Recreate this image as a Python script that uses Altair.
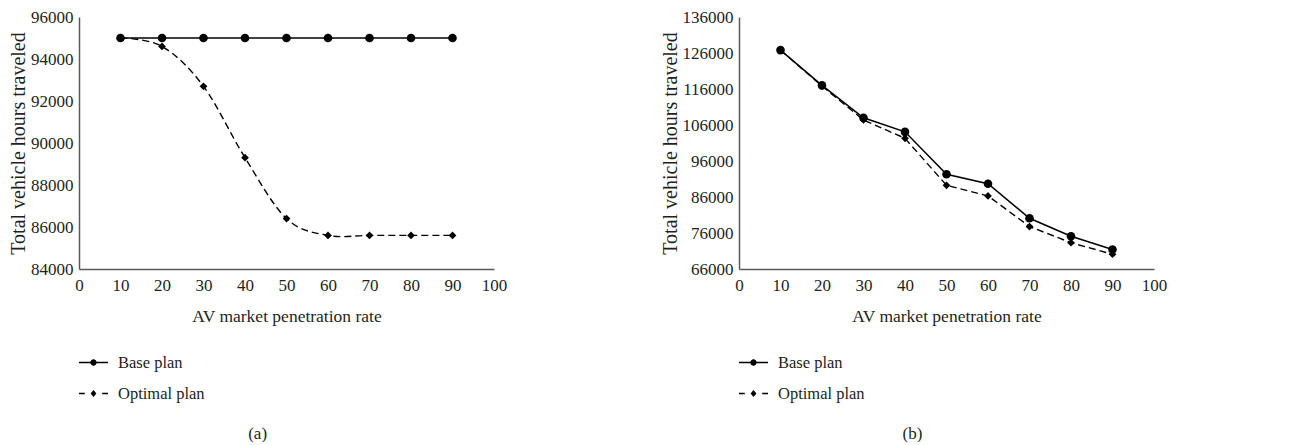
import altair as alt
import pandas as pd

# ---- data ----
x_rate = [10, 20, 30, 40, 50, 60, 70, 80, 90]
a_base = [95000, 95000, 95000, 95000, 95000, 95000, 95000, 95000, 95000]
a_opt = [95000, 94600, 92700, 89300, 86400, 85600, 85600, 85600, 85600]
b_base = [126800, 117000, 108000, 104100, 92300, 89700, 80100, 75100, 71400]
b_opt = [126800, 116800, 107400, 102300, 89250, 86300, 77800, 73300, 70100]
series_names = ["Base plan", "Optimal plan"]
captions = ["(a)", "(b)"]
x_ticks = [0, 10, 20, 30, 40, 50, 60, 70, 80, 90, 100]
a_y_ticks = [84000, 86000, 88000, 90000, 92000, 94000, 96000]
b_y_ticks = [66000, 76000, 86000, 96000, 106000, 116000, 126000, 136000]

FONT = "Liberation Serif"
TXT = "#231f20"
AXC = "#595959"

# legend symbols: line + marker, unit-square paths
P_BASE = ("M-1,-0.045H-0.2V0.045H-1Z M0.2,-0.045H1V0.045H0.2Z "
          "M-0.22,0A0.22,0.22 0 1,1 0.22,0A0.22,0.22 0 1,1 -0.22,0Z")
P_OPT = ("M-1,-0.045H-0.6V0.045H-1Z M0.6,-0.045H1V0.045H0.6Z "
         "M0,-0.24L0.2,0L0,0.24L-0.2,0Z")


def panel(base_vals, opt_vals, ydom, yticks, caption, opt_interp, cap_dx):
    df = pd.DataFrame({
        "rate": x_rate + x_rate,
        "value": base_vals + opt_vals,
        "series": [series_names[0]] * len(x_rate) + [series_names[1]] * len(x_rate),
    })
    x = alt.X("rate:Q", scale=alt.Scale(domain=[0, 100], nice=False),
              axis=alt.Axis(values=x_ticks, title="AV market penetration rate",
                            labelFlush=False, labelOverlap=False,
                            labelPadding=8, titlePadding=14, titleFontSize=17.5))
    y = alt.Y("value:Q", scale=alt.Scale(domain=ydom, nice=False, zero=False),
              axis=alt.Axis(values=yticks, format="d", title="Total vehicle hours traveled",
                            labelFlush=False, labelOverlap=False,
                            labelPadding=6, titlePadding=2, titleFontSize=20))
    base = alt.Chart(df).transform_filter(alt.datum.series == series_names[0])
    opt = alt.Chart(df).transform_filter(alt.datum.series == series_names[1])
    base_line = base.mark_line(color="black", strokeWidth=1.5).encode(x=x, y=y)
    base_pts = base.mark_point(filled=True, color="black", opacity=1, size=74,
                               shape="circle").encode(x=x, y=y)
    opt_line = opt.mark_line(color="black", strokeWidth=1.4, strokeDash=[7, 4],
                             interpolate=opt_interp).encode(x=x, y=y)
    opt_pts = opt.mark_point(filled=True, color="black", opacity=1, size=60,
                             shape="diamond").encode(x=x, y=y)
    leg = alt.Chart(pd.DataFrame({"plan": series_names})).mark_point(
        filled=True, color="black", opacity=0
    ).encode(
        shape=alt.Shape("plan:N", scale=alt.Scale(domain=series_names, range=[P_BASE, P_OPT]),
                        legend=alt.Legend(title=None, orient="none", legendX=0, legendY=331,
                                          symbolSize=841, symbolOpacity=1,
                                          symbolFillColor="black", symbolStrokeWidth=0,
                                          labelFont=FONT, labelFontSize=16.5, labelColor=TXT,
                                          labelOffset=10, rowPadding=8))
    )
    return alt.layer(base_line, base_pts, opt_line, opt_pts, leg).properties(
        width=415, height=252,
        title=alt.TitleParams(caption, orient="bottom", anchor="middle", frame="bounds",
                              font=FONT, fontSize=17, fontWeight="normal", color=TXT,
                              offset=24, dx=cap_dx),
    )


left = panel(a_base, a_opt, [84000, 96000], a_y_ticks, captions[0], "cardinal", 0)
right = panel(b_base, b_opt, [66000, 136000], b_y_ticks, captions[1], "linear", -1)

chart = alt.hconcat(left, right, spacing=153).resolve_scale(
    shape="independent"
).resolve_legend(shape="independent").properties(
    padding={"left": 0, "top": 0, "right": 0, "bottom": 0}
).configure_view(stroke=None).configure_axis(
    grid=False, ticks=False, domainColor=AXC, domainWidth=1.5,
    labelFont=FONT, labelFontSize=17, labelColor=TXT,
    titleFont=FONT, titleFontWeight="normal", titleColor=TXT,
).configure_concat(spacing=153)

chart.save("out.html", embed_options={"renderer": "svg", "actions": False})
